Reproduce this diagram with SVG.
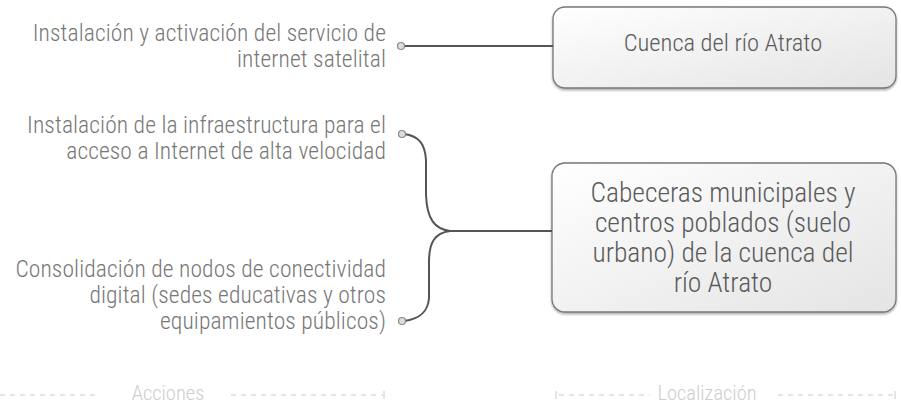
<svg xmlns="http://www.w3.org/2000/svg" width="901" height="406" viewBox="0 0 901 406">
<defs>
<linearGradient id="g" x1="0" y1="0" x2="1" y2="1">
<stop offset="0" stop-color="#ffffff"/>
<stop offset="1" stop-color="#e4e4e4"/>
</linearGradient>
<filter id="sh" x="-5%" y="-5%" width="110%" height="115%">
<feDropShadow dx="0" dy="1.5" stdDeviation="1" flood-color="#000" flood-opacity="0.35"/>
</filter>
</defs>
<style>
.t{font-family:"Roboto Condensed","Liberation Sans Narrow","Liberation Sans",sans-serif;fill:#777;font-size:23.5px;font-weight:300;letter-spacing:0.1px;text-anchor:end}
.n{font-family:"Roboto Condensed","Liberation Sans Narrow","Liberation Sans",sans-serif;fill:#5a5a5a;font-weight:300;text-anchor:middle}
.f{font-family:"Roboto Condensed","Liberation Sans Narrow","Liberation Sans",sans-serif;fill:#cdcdcd;font-size:20.5px;font-weight:300;text-anchor:middle}
.box{fill:url(#g);stroke:#777;stroke-width:1.3;filter:url(#sh)}
.c{fill:none;stroke:#555;stroke-width:2}
.dot{fill:#ddd;stroke:#888;stroke-width:1.2}
.d{stroke:#ccc;stroke-width:1;stroke-dasharray:5 5}
</style>
<g id="a1"><text class="t" x="386" y="41">Instalación y activación del servicio de</text><text class="t" x="386" y="67">internet satelital</text></g>
<g id="a2"><text class="t" x="386" y="133">Instalación de la infraestructura para el</text><text class="t" x="386" y="159">acceso a Internet de alta velocidad</text></g>
<g id="a3"><text class="t" x="386" y="277">Consolidación de nodos de conectividad</text><text class="t" x="386" y="303">digital (sedes educativas y otros</text><text class="t" x="386" y="329">equipamientos públicos)</text></g>
<g id="l1"><rect class="box" x="553" y="7" width="343" height="81" rx="12"/><text class="n" x="723" y="51" font-size="24.5">Cuenca del río Atrato</text></g>
<g id="l2"><rect class="box" x="552" y="163" width="344" height="149" rx="13"/><g class="n" font-size="27.5"><text class="n" x="723" y="202">Cabeceras municipales y</text><text class="n" x="723" y="232">centros poblados (suelo</text><text class="n" x="723" y="262">urbano) de la cuenca del</text><text class="n" x="723" y="292">río Atrato</text></g></g>
<g id="connectors">
<path class="c" d="M404 46 H553"/>
<path class="c" d="M404 134 C420 136 425 145 426 160 V195 C427 220 435 229 450 231 H552"/>
<path class="c" d="M450 231 C435 233 429 242 429 262 V298 C428 312 420 319 404 321"/>
<circle class="dot" cx="401" cy="46" r="3.5"/>
<circle class="dot" cx="402" cy="134" r="3.5"/>
<circle class="dot" cx="402" cy="321" r="3.5"/>
</g>
<g id="footer">
<line class="d" x1="0" y1="395" x2="100" y2="395"/>
<text class="f" x="168" y="400">Acciones</text>
<line class="d" x1="231" y1="395" x2="383" y2="395"/>
<line x1="384" y1="391" x2="384" y2="399" stroke="#ccc"/>
<line x1="556" y1="391" x2="556" y2="399" stroke="#ccc"/>
<line class="d" x1="559" y1="395" x2="650" y2="395"/>
<text class="f" x="707" y="400">Localización</text>
<line class="d" x1="778" y1="395" x2="894" y2="395"/>
<line x1="895" y1="391" x2="895" y2="399" stroke="#ccc"/>
</g>
</svg>
